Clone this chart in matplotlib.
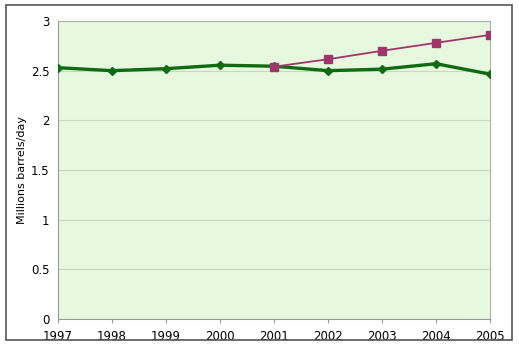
import numpy as np
import matplotlib.pyplot as plt
from matplotlib.patches import Rectangle

years = [1997, 1998, 1999, 2000, 2001, 2002, 2003, 2004, 2005]
actual = [2.53, 2.50, 2.52, 2.555, 2.545, 2.50, 2.515, 2.57, 2.465]
trend_years = [2001, 2002, 2003, 2004, 2005]
trend = [2.54, 2.615, 2.70, 2.78, 2.86]

fig = plt.figure(figsize=(5.19, 3.57), dpi=100)
fig.patches.append(Rectangle((6/519, 1 - 340/357), 506/519, 335/357,
                             transform=fig.transFigure, fill=False,
                             edgecolor='#555555', linewidth=1.2))
ax = fig.add_axes([58/519, 38/357, 432/519, 298/357])
ax.set_facecolor('#e6f8de')

ax.plot(years, actual, color='#0f6b12', linewidth=2.4, marker='D',
        markersize=4.5, zorder=3)
ax.plot(trend_years, trend, color='#a0356a', linewidth=1.3, marker='s',
        markersize=5.5, zorder=4)

ax.set_xlim(1997, 2005)
ax.set_ylim(0, 3)
ax.set_xticks(years)
ax.set_yticks(np.arange(0, 3.01, 0.5))
ax.set_yticklabels(['0', '0.5', '1', '1.5', '2', '2.5', '3'])
ax.yaxis.grid(True, color='#c8d8c0', linewidth=0.8)
ax.set_axisbelow(True)
ax.tick_params(labelsize=8.5, length=3, color='#999999')
ax.tick_params(axis='x', pad=5)
ax.tick_params(axis='y', length=0, pad=6)
for s in ['top', 'right']:
    ax.spines[s].set_color('#b0b0b0')
for s in ['left', 'bottom']:
    ax.spines[s].set_color('#999999')
ax.set_ylabel('Millions barrels/day', fontsize=8, labelpad=3)

plt.savefig('out.png', dpi=100)
